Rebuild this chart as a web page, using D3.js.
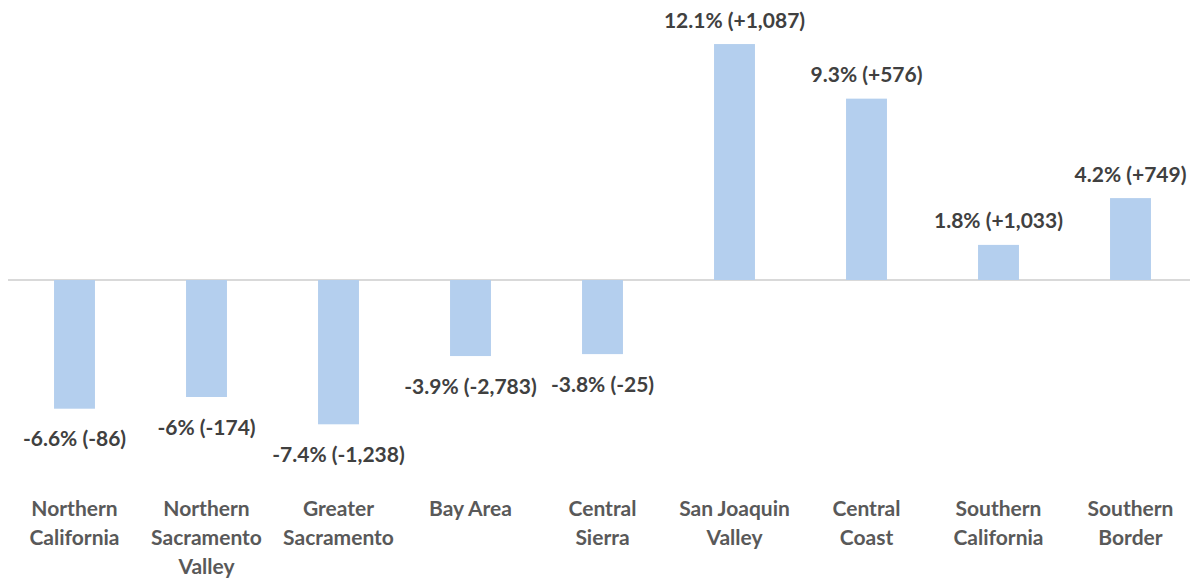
<!DOCTYPE html>
<html>
<head>
<meta charset="utf-8">
<script src="https://cdn.jsdelivr.net/npm/d3@7"></script>
<style>
  body { margin: 0; background: #fff; }
  text { font-family: Lato, "Open Sans", sans-serif; font-weight: bold; }
</style>
</head>
<body>
<div id="chart"></div>
<script>
// Chart data
var regions = [
  ["Northern", "California"],
  ["Northern", "Sacramento", "Valley"],
  ["Greater", "Sacramento"],
  ["Bay Area"],
  ["Central", "Sierra"],
  ["San Joaquin", "Valley"],
  ["Central", "Coast"],
  ["Southern", "California"],
  ["Southern", "Border"]
];
var pctChange = [-6.6, -6, -7.4, -3.9, -3.8, 12.1, 9.3, 1.8, 4.2];
var labels = ["-6.6% (-86)", "-6% (-174)", "-7.4% (-1,238)", "-3.9% (-2,783)", "-3.8% (-25)",
  "12.1% (+1,087)", "9.3% (+576)", "1.8% (+1,033)", "4.2% (+749)"];

var svgWidth = 1190;
var svgHeight = 579;

var svg = d3.select("#chart")
  .append("svg")
  .attr("width", svgWidth)
  .attr("height", svgHeight);

var data = pctChange.map(function(v, i) {
  return { idx: i, value: v, label: labels[i], name: regions[i] };
});

// x band scale, 132px per category
var x = d3.scaleBand()
  .domain(d3.range(data.length))
  .range([8.5, 1196.5])
  .paddingInner(0.69)
  .paddingOuter(0.345);

// y scale: zero at ~280px, about 19.5px per percent
var y = d3.scaleLinear()
  .domain([-10, 12.1])
  .range([280 + 195, 280 - 12.1 * 19.5]);

// zero line
svg.append("line")
  .attr("x1", 8)
  .attr("x2", 1190)
  .attr("y1", y(0))
  .attr("y2", y(0))
  .attr("stroke", "#d9d9d9")
  .attr("stroke-width", 2);

// bars
svg.selectAll(".bar")
  .data(data)
  .enter()
  .append("rect")
  .attr("class", "bar")
  .attr("x", d => x(d.idx))
  .attr("width", x.bandwidth())
  .attr("y", d => y(Math.max(0, d.value)))
  .attr("height", d => Math.abs(y(d.value) - y(0)))
  .attr("fill", "#b4cfee");

// data labels
svg.selectAll(".valueLabel")
  .data(data)
  .enter()
  .append("text")
  .attr("class", "valueLabel")
  .attr("x", d => x(d.idx) + x.bandwidth() / 2)
  .attr("y", d => d.value >= 0 ? y(d.value) - 25 : y(d.value) + 29)
  .attr("text-anchor", "middle")
  .attr("dominant-baseline", "central")
  .attr("font-size", "21px")
  .attr("fill", "#404040")
  .text(d => d.label);

// category labels
var cats = svg.selectAll(".catLabel")
  .data(data)
  .enter()
  .append("text")
  .attr("class", "catLabel")
  .attr("text-anchor", "middle")
  .attr("font-size", "21px")
  .attr("fill", "#595959");

cats.selectAll("tspan")
  .data(d => d.name.map(function(n) { return { n: n, cx: x(d.idx) + x.bandwidth() / 2 }; }))
  .enter()
  .append("tspan")
  .attr("x", d => d.cx)
  .attr("y", (d, i) => 507 + i * 29)
  .attr("dominant-baseline", "central")
  .text(d => d.n);
</script>
</body>
</html>
